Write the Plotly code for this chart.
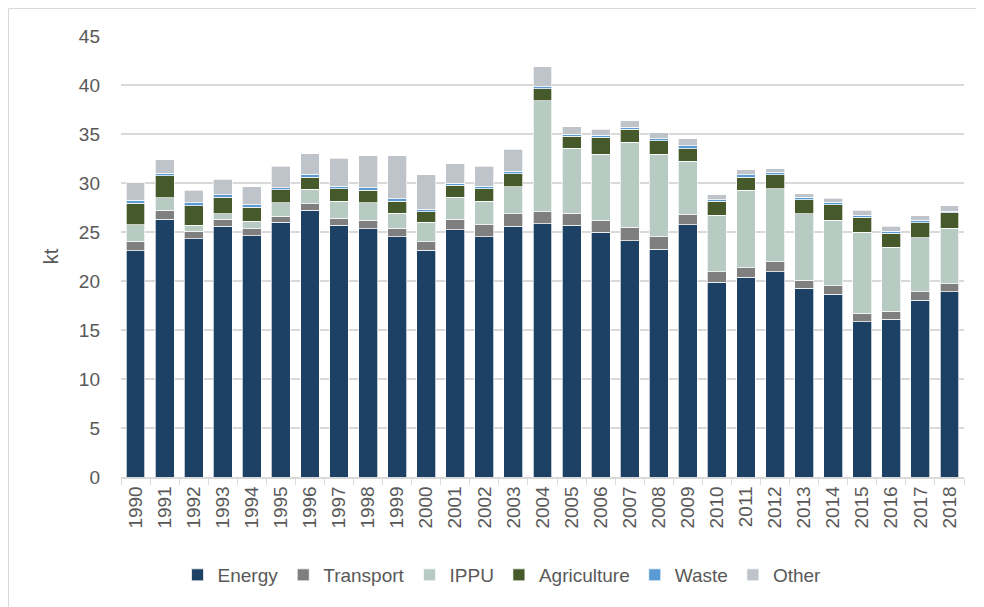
import plotly.graph_objects as go

years = [str(y) for y in range(1990, 2019)]

energy = [23.1, 26.3, 24.3, 25.6, 24.6, 26.0, 27.2, 25.7, 25.35, 24.5,
          23.15, 25.25, 24.5, 25.6, 25.85, 25.7, 24.95, 24.1, 23.25, 25.75,
          19.85, 20.4, 20.95, 19.25, 18.65, 15.85, 16.1, 18.05, 18.9]
transport = [0.95, 0.9, 0.8, 0.7, 0.75, 0.6, 0.7, 0.7, 0.85, 0.9,
             0.85, 1.05, 1.25, 1.25, 1.2, 1.2, 1.25, 1.4, 1.25, 1.0,
             1.1, 0.95, 1.0, 0.85, 0.85, 0.85, 0.8, 0.85, 0.8]
ippu = [1.7, 1.3, 0.6, 0.55, 0.75, 1.4, 1.45, 1.75, 1.8, 1.5,
        2.0, 2.25, 2.4, 2.75, 11.35, 6.65, 6.75, 8.65, 8.45, 5.45,
        5.75, 7.9, 7.45, 6.75, 6.7, 8.3, 6.55, 5.5, 5.7]
agriculture = [2.2, 2.25, 2.0, 1.7, 1.45, 1.3, 1.25, 1.25, 1.25, 1.25,
               1.05, 1.2, 1.25, 1.35, 1.2, 1.2, 1.7, 1.35, 1.35, 1.3,
               1.45, 1.35, 1.45, 1.45, 1.6, 1.5, 1.4, 1.55, 1.55]
waste = [0.3, 0.25, 0.3, 0.25, 0.25, 0.2, 0.3, 0.25, 0.25, 0.25,
         0.25, 0.25, 0.25, 0.25, 0.2, 0.25, 0.2, 0.2, 0.2, 0.3,
         0.15, 0.25, 0.25, 0.25, 0.25, 0.2, 0.25, 0.25, 0.15]
other = [1.8, 1.35, 1.25, 1.6, 1.8, 2.2, 2.1, 2.9, 3.3, 4.4,
         3.55, 1.95, 2.05, 2.25, 2.05, 0.75, 0.65, 0.65, 0.65, 0.7,
         0.5, 0.5, 0.35, 0.35, 0.4, 0.5, 0.5, 0.45, 0.6]

series = [
    ("Energy", energy, "#1D4164"),
    ("Transport", transport, "#7F7F7F"),
    ("IPPU", ippu, "#B8CBC3"),
    ("Agriculture", agriculture, "#46592A"),
    ("Waste", waste, "#5B9BD5"),
    ("Other", other, "#BFC3CA"),
]

fig = go.Figure()
for name, vals, color in series:
    fig.add_trace(go.Bar(
        name=name, x=years, y=vals,
        marker=dict(color=color, line=dict(color="white", width=0.7)),
    ))

FAM = "Liberation Sans, Arial, sans-serif"
tick_font = dict(family=FAM, size=19, color="#595959")

W, H = 976, 599
L, T = 113, 28
plot_w = 956 - L
plot_h = 469 - T

fig.update_layout(
    barmode="stack",
    bargap=0.35,
    width=W, height=H,
    margin=dict(l=L, r=W - 956, t=T, b=H - 469),
    paper_bgcolor="white",
    plot_bgcolor="white",
    font=tick_font,
    xaxis=dict(
        type="category",
        tickangle=-90,
        tickfont=tick_font,
        showline=True, linecolor="#D9D9D9", linewidth=1.5,
        ticks="outside", tickson="boundaries", ticklen=6, tickcolor="#D9D9D9",
        showgrid=False,
        range=[-0.5, 28.5],
    ),
    yaxis=dict(
        range=[0, 45],
        dtick=5,
        tickfont=tick_font,
        showgrid=True, gridcolor="#D9D9D9", gridwidth=1.5,
        zeroline=False,
        showline=False,
        ticks="",
        ticklabelstandoff=20,
        title=dict(text="kt", font=dict(family=FAM, size=20, color="#595959"), standoff=14),
    ),
    legend=dict(
        orientation="h",
        x=0.452, xanchor="center",
        y=-(567 - 469) / plot_h, yanchor="middle",
        font=dict(family=FAM, size=19, color="#595959"),
        itemwidth=30,
        traceorder="normal",
    ),
    shapes=[dict(
        type="rect", xref="paper", yref="paper",
        x0=(0.5 - L) / plot_w, x1=1.2, y0=-0.6, y1=(469 - 0.5) / plot_h,
        line=dict(color="#D9D9D9", width=1),
        fillcolor="rgba(0,0,0,0)",
        layer="below",
    )],
)

fig.write_html("out.html")
